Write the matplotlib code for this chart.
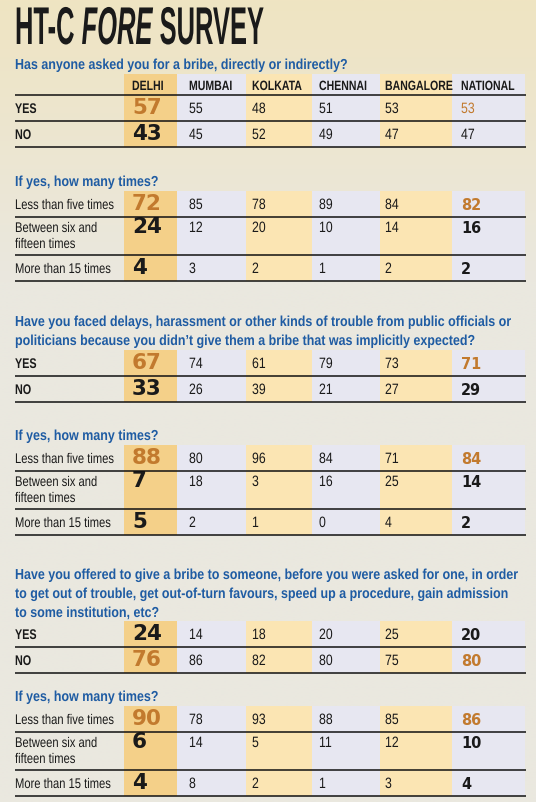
import matplotlib
matplotlib.use("Agg")
import matplotlib.pyplot as plt
import numpy as np
from matplotlib import patheffects
from matplotlib.transforms import Affine2D
from matplotlib.colors import to_rgb

# HT-C Fore survey on bribery, redrawn as a table graphic

cities = ["DELHI", "MUMBAI", "KOLKATA", "CHENNAI", "BANGALORE", "NATIONAL"]

q_asked = ["Has anyone asked you for a bribe, directly or indirectly?"]
q_trouble = ["Have you faced delays, harassment or other kinds of trouble from public officials or",
             "politicians because you didn\u2019t give them a bribe that was implicitly expected?"]
q_offered = ["Have you offered to give a bribe to someone, before you were asked for one, in order",
             "to get out of trouble, get out-of-turn favours, speed up a procedure, gain admission",
             "to some institution, etc?"]
q_times = ["If yes, how many times?"]

yes_no_labels = [["YES"], ["NO"]]
times_labels = [["Less than five times"], ["Between six and", "fifteen times"], ["More than 15 times"]]

asked_yes = [57, 55, 48, 51, 53, 53]
asked_no = [43, 45, 52, 49, 47, 47]
asked_less5 = [72, 85, 78, 89, 84, 82]
asked_6to15 = [24, 12, 20, 10, 14, 16]
asked_more15 = [4, 3, 2, 1, 2, 2]

trouble_yes = [67, 74, 61, 79, 73, 71]
trouble_no = [33, 26, 39, 21, 27, 29]
trouble_less5 = [88, 80, 96, 84, 71, 84]
trouble_6to15 = [7, 18, 3, 16, 25, 14]
trouble_more15 = [5, 2, 1, 0, 4, 2]

offered_yes = [24, 14, 18, 20, 25, 20]
offered_no = [76, 86, 82, 80, 75, 80]
offered_less5 = [90, 78, 93, 88, 85, 86]
offered_6to15 = [6, 14, 5, 11, 12, 10]
offered_more15 = [4, 8, 2, 1, 3, 4]

SANS = "Liberation Sans"
WIDE = "DejaVu Sans"

BLUE = "#1f5ca3"
ORANGE = "#c27a2e"
INK = "#1a1a1a"
col_fill = ["#f4d089", "#e7e7f1", "#fbe5b3", "#e7e7f1", "#fbe5b3", "#e7e7f1"]
col_edges = [124, 177, 246, 312, 380, 452, 525]
text_x = [132, 189, 252, 319, 385, 461]
LEFT, RIGHT = 15, 526


class Stretch(patheffects.AbstractPathEffect):
    """draw text glyphs scaled about their baseline origin"""
    def __init__(self, sy=1.0):
        super().__init__()
        self.sy = sy

    def draw_path(self, renderer, gc, tpath, affine, rgbFace=None):
        renderer.draw_path(gc, tpath, Affine2D().scale(1.0, self.sy) + affine, rgbFace)


def pt(px):
    return px * 0.72


fig = plt.figure(figsize=(5.36, 8.03), dpi=100)
ax = fig.add_axes([0, 0, 1, 1])
ax.set_xlim(0, 536)
ax.set_ylim(803, 0)
ax.axis("off")


def txt(x, y, s, em, sx=0.82, sy=1.0, family=SANS, **kw):
    # condensed look: smaller font, glyphs stretched upwards from the baseline
    return ax.text(x, y, s, fontsize=pt(em * sx), family=family, va="baseline", ha="left",
                   path_effects=[Stretch(sy / sx)], **kw)


# paper background: warm at the top, grey-beige lower down
top_c = np.array(to_rgb("#efe4c2"))
low_c = np.array(to_rgb("#eae8df"))
t = np.clip(np.linspace(0, 1, 200) / 0.35, 0, 1)[:, None]
grad = (top_c * (1 - t) + low_c * t)[:, None, :]
ax.imshow(grad, extent=[0, 536, 803, 0], aspect="auto", zorder=0, interpolation="bilinear")

# title
renderer = fig.canvas.get_renderer()
x = 15
for part, style in [("HT-C ", "normal"), ("FORE", "italic"), (" SURVEY", "normal")]:
    tt = txt(x, 45, part, 30, sx=0.85, sy=1.77, fontweight="bold", style=style, color=INK)
    x += tt.get_window_extent(renderer).width


def question(lines, top):
    for i, line in enumerate(lines):
        y = top - 5 - 19 * (len(lines) - 1 - i)
        txt(LEFT, y, line, 14.5, sx=0.86, fontweight="bold", color=BLUE)


def table(top, labels, rows, header=False, label_bold=False, nat_bold=True):
    y = top
    edges = [y]
    if header:
        y += 21
        edges.append(y)
        for cx, name in zip(text_x, cities):
            txt(cx, y - 5, name, 13.5, sx=0.78, fontweight="bold", color=INK)
    delhi_max = max(r[0] for r in rows)
    nat_max = max(r[-1] for r in rows)
    for lab, vals in zip(labels, rows):
        h = 38 if len(lab) > 1 else 26
        base = y + 15 if len(lab) > 1 else y + h - 8
        for k, line in enumerate(lab):
            if label_bold:
                txt(LEFT, base + 16 * k, line, 14, sx=0.77, fontweight="bold", color=INK)
            else:
                txt(LEFT, base + 16 * k, line, 14, sx=0.8, color=INK)
        for j, (cx, v) in enumerate(zip(text_x, vals)):
            if j == 0:
                ax.text(cx, base, str(v), fontsize=pt(21.5), family=WIDE, fontweight="heavy",
                        color=ORANGE if v == delhi_max else INK, va="baseline")
            elif j == len(vals) - 1:
                c = ORANGE if v == nat_max else INK
                if nat_bold:
                    ax.text(cx, base, str(v), fontsize=pt(14.5), family=WIDE, fontweight="bold",
                            color=c, va="baseline")
                else:
                    txt(cx, base, str(v), 15, color=c)
            else:
                txt(cx, base, str(v), 15, color=INK)
        y += h
        edges.append(y)
    # column fills
    for j in range(len(cities)):
        ax.fill_between([col_edges[j], col_edges[j + 1]], top, y, color=col_fill[j],
                        lw=0, zorder=1)
    for e in edges[1:]:
        ax.plot([LEFT, RIGHT], [e, e], color="#111111", lw=1.1, zorder=3,
                solid_capstyle="butt")


question(q_asked, 75)
table(75, yes_no_labels, [asked_yes, asked_no], header=True, label_bold=True, nat_bold=False)
question(q_times, 192)
table(192, times_labels, [asked_less5, asked_6to15, asked_more15])

question(q_trouble, 351)
table(351, yes_no_labels, [trouble_yes, trouble_no], label_bold=True)
question(q_times, 446)
table(446, times_labels, [trouble_less5, trouble_6to15, trouble_more15])

question(q_offered, 623)
table(622, yes_no_labels, [offered_yes, offered_no], label_bold=True)
question(q_times, 707)
table(707, times_labels, [offered_less5, offered_6to15, offered_more15])

fig.savefig("out.png", dpi=100)
